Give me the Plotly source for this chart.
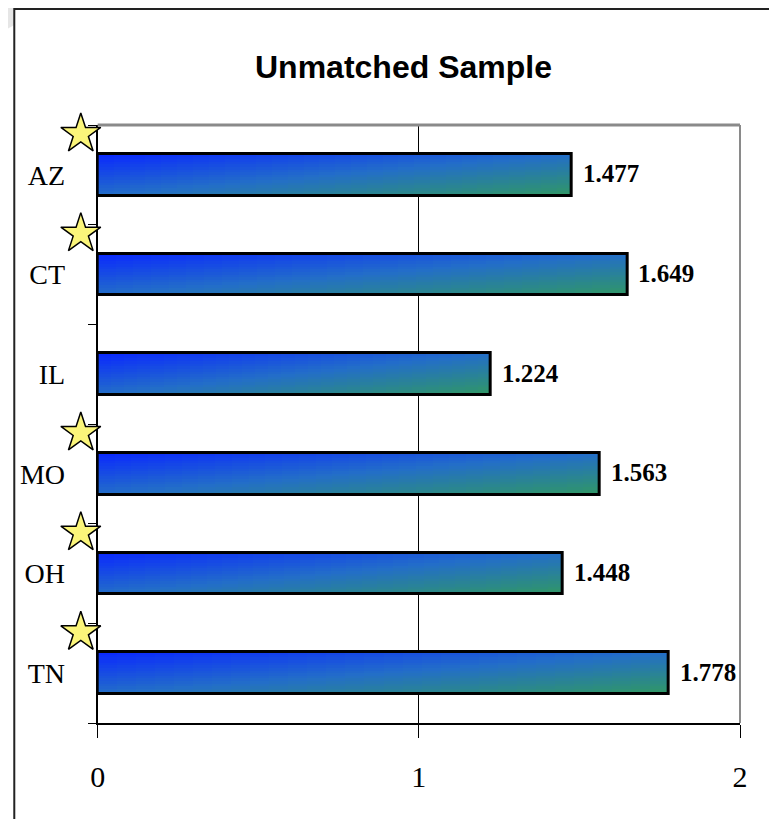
import numpy as np
import plotly.graph_objects as go

# ---- data ----
states = ["AZ", "CT", "IL", "MO", "OH", "TN"]
values = [1.477, 1.649, 1.224, 1.563, 1.448, 1.778]
starred = [True, True, False, True, True, True]
x_ticks = [0, 1, 2]
title_text = "Unmatched Sample"

# page body has an 8px margin: figure sits at (8, 8) in the window
OFF = 8
W, H = 777 - OFF, 819 - OFF
PLOT_L, PLOT_R, PLOT_T, PLOT_B = 93 - OFF, 740 - OFF, 125 - OFF, 723 - OFF
ML, MR, MT, MB = 40, W - PLOT_R, PLOT_T, H - PLOT_B
pw, ph = W - ML - MR, H - MT - MB


def px(x):  # reference x pixel -> paper
    return (x - OFF - ML) / pw


def py(y):  # reference y pixel -> paper
    return (H - MB - (y - OFF)) / ph


dom_x0 = (PLOT_L - ML) / pw

ypos = np.arange(len(states))
vals = np.array(values)

BAR_W = 0.42
N_V, N_H = 16, 30

c0 = np.array([10, 40, 255])
cm = np.array([35, 110, 200])
c1 = np.array([48, 152, 100])


def grad(t):
    if t <= 0.5:
        c = c0 + (cm - c0) * (t / 0.5)
    else:
        c = cm + (c1 - cm) * ((t - 0.5) / 0.5)
    return "rgb(%d,%d,%d)" % tuple(np.round(c).astype(int))


fig = go.Figure()

# gradient-filled bars built from slices of each bar
for k in range(N_V):
    v = (k + 0.5) / N_V
    ys, xs, bases, cols = [], [], [], []
    for j in range(N_H):
        u = (j + 0.5) / N_H
        for i, val in enumerate(vals):
            ys.append(ypos[i])
            xs.append(val / N_H * (1.0 if j == N_H - 1 else 1.05))
            bases.append(val * j / N_H)
            cols.append(grad((u + v) / 2))
    fig.add_trace(go.Bar(
        orientation="h", y=ys, x=xs, base=bases,
        width=BAR_W / N_V * 1.2, offset=-BAR_W / 2 + k * BAR_W / N_V,
        marker=dict(color=cols, line=dict(width=0)),
        hoverinfo="skip", showlegend=False,
    ))

# outline trace
fig.add_trace(go.Bar(
    orientation="h", y=ypos, x=vals, width=BAR_W,
    marker=dict(color="rgba(0,0,0,0)", line=dict(color="black", width=3)),
    showlegend=False, hoverinfo="skip",
))

# stars (in a small helper subplot in the left margin)
star_x = (76 - OFF - ML) / (PLOT_L - ML)
sy = [ypos[i] - 0.41 for i, s in enumerate(starred) if s]
fig.add_trace(go.Scatter(
    x=[star_x] * len(sy), y=sy, xaxis="x2", yaxis="y",
    mode="markers", cliponaxis=False,
    marker=dict(symbol="star", size=30, color="#fbf57a",
                line=dict(color="black", width=1.5)),
    showlegend=False, hoverinfo="skip",
))

# value labels
for i, val in enumerate(vals):
    fig.add_annotation(
        x=val, y=ypos[i], text="%.3f" % val, showarrow=False,
        xanchor="left", xshift=9, yshift=1,
        font=dict(family="Liberation Serif, Times New Roman, serif",
                  size=25, color="black", weight="bold"),
    )

# title
fig.add_annotation(
    xref="paper", yref="paper", x=px(401), y=py(67),
    text="<b>%s</b>" % title_text, showarrow=False,
    xanchor="center", yanchor="middle",
    font=dict(family="Liberation Sans, Arial, sans-serif", size=32, color="black"),
)

# soft gray corner shadow
fig.add_shape(type="path", xref="paper", yref="paper",
              path="M %f,%f L %f,%f L %f,%f Z" % (px(0), py(0), px(55), py(0), px(0), py(30)),
              fillcolor="#dcdcdc", opacity=0.7, line=dict(width=0), layer="below")
# plot-area background
fig.add_shape(type="rect", xref="x domain", yref="y domain", x0=0, x1=1, y0=0, y1=1,
              fillcolor="#fcf1dc", line=dict(width=0), layer="below")
# outer frame
fig.add_shape(type="rect", xref="paper", yref="paper",
              x0=px(9), x1=px(773), y0=py(840), y1=py(9),
              line=dict(color="#222222", width=2), fillcolor="white",
              layer="below")
# gray top/right border of the plot area
fig.add_shape(type="line", xref="x domain", yref="y domain", x0=0, x1=1, y0=1, y1=1,
              line=dict(color="#8a8a8a", width=3), layer="above")
fig.add_shape(type="line", xref="x domain", yref="y domain", x0=1, x1=1, y0=0, y1=1,
              line=dict(color="#8a8a8a", width=2), layer="above")

serif = "Liberation Serif, Times New Roman, serif"
fig.update_layout(
    width=W, height=H,
    margin=dict(l=ML, r=MR, t=MT, b=MB, pad=0),
    paper_bgcolor="white", plot_bgcolor="rgba(0,0,0,0)",
    barmode="overlay", bargap=0,
    xaxis=dict(domain=[dom_x0, 1], anchor="y",
               range=[0, 2], tickvals=x_ticks, ticktext=[str(t) for t in x_ticks],
               showgrid=True, gridcolor="black", gridwidth=1,
               showline=True, linecolor="black", linewidth=2,
               ticks="outside", ticklen=13, tickcolor="black", tickwidth=1,
               ticklabelstandoff=13, zeroline=False,
               tickfont=dict(family=serif, size=30, color="black")),
    xaxis2=dict(domain=[0, dom_x0], anchor="y", range=[0, 1], visible=False,
                showgrid=False, zeroline=False),
    yaxis=dict(anchor="x", range=[len(states) - 0.5, -0.5], tickvals=list(ypos),
               ticktext=states, showgrid=False, zeroline=False,
               showline=True, linecolor="black", linewidth=2,
               ticks="", ticklabelstandoff=25,
               minor=dict(tick0=-0.5, dtick=1, ticks="outside", ticklen=8,
                          tickcolor="black", tickwidth=1, showgrid=False),
               tickfont=dict(family=serif, size=28, color="black")),
)

fig.write_html("out.html")
